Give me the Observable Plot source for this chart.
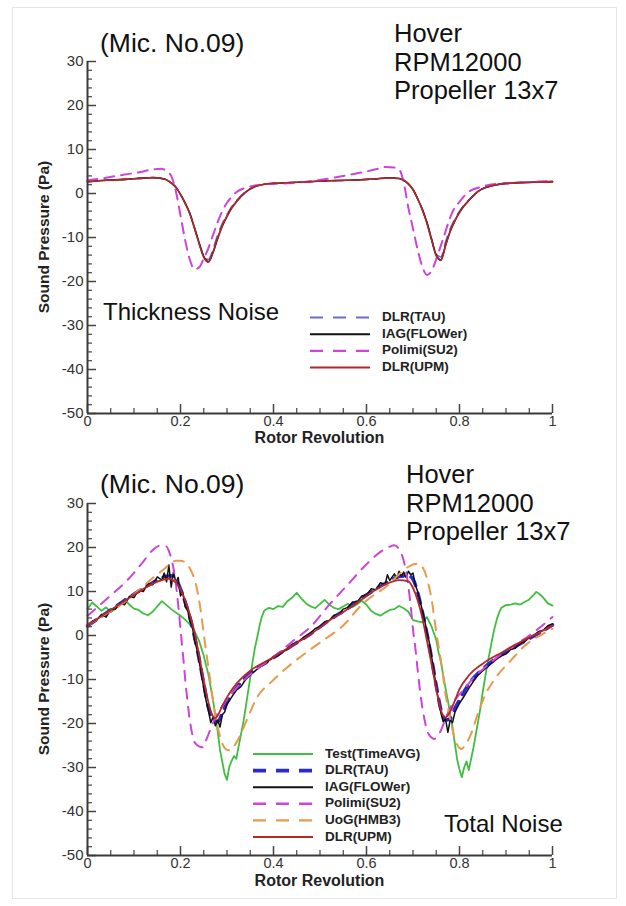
<!DOCTYPE html>
<html><head><meta charset="utf-8">
<script src="https://cdn.jsdelivr.net/npm/d3@7"></script>
<script src="https://cdn.jsdelivr.net/npm/@observablehq/plot@0.6"></script>
<style>
body{margin:0;background:#fff;}
#wrap{position:relative;width:626px;height:906px;overflow:hidden;}
#frame{position:absolute;left:12px;top:7px;width:603px;height:890px;border:1px solid #e6e6e6;}
#wrap svg{display:block;position:relative;}
</style>
</head><body><div id="wrap"><div id="frame"></div></div>
<script>
// ---------- tick values ----------
const xTicks = [0, 0.2, 0.4, 0.6, 0.8, 1];
const yTicks = [-50, -40, -30, -20, -10, 0, 10, 20, 30];
const xMinorTicks = [0.05, 0.1, 0.15, 0.25, 0.3, 0.35, 0.45, 0.5, 0.55, 0.65, 0.7, 0.75, 0.85, 0.9, 0.95];
const yMinorTicks = [-48,-46,-44,-42,-38,-36,-34,-32,-28,-26,-24,-22,-18,-16,-14,-12,-8,-6,-4,-2,2,4,6,8,12,14,16,18,22,24,26,28];

// ---------- top chart: Thickness Noise ----------
const thickX = [0, .04, .08, .12, .14, .16, .17, .18, .19, .20, .21, .22, .23, .24, .25, .26, .27, .28, .29, .30, .31, .32, .34, .36, .38, .40, .44, .48, .52, .56, .60, .62, .64, .66, .67, .68, .69, .70, .71, .72, .73, .74, .75, .76, .77, .78, .79, .80, .81, .82, .84, .86, .88, .90, .94, .97, 1.0];
const thickTAU = [2.7, 3.0, 3.2, 3.5, 3.6, 3.4, 3.1, 2.4, 1.4, -0.2, -2.2, -4.5, -7.8, -11.2, -14.2, -15.0, -12.6, -9.4, -6.8, -4.8, -3.0, -1.7, 0.4, 1.6, 2.1, 2.3, 2.5, 2.7, 2.9, 3.0, 3.2, 3.3, 3.5, 3.5, 3.4, 3.0, 2.2, 0.9, -1.2, -3.6, -6.6, -10.4, -13.8, -14.4, -11.0, -8.0, -5.8, -4.0, -2.6, -1.5, 0.5, 1.5, 2.0, 2.3, 2.5, 2.6, 2.7];
const thickIAG = [2.7, 3.0, 3.2, 3.5, 3.6, 3.4, 3.1, 2.4, 1.4, -0.2, -2.2, -4.5, -7.8, -11.2, -14.3, -15.5, -13.4, -10.2, -7.4, -5.2, -3.3, -1.9, 0.3, 1.6, 2.1, 2.3, 2.5, 2.7, 2.9, 3.0, 3.2, 3.3, 3.5, 3.5, 3.4, 3.0, 2.2, 0.9, -1.2, -3.6, -6.6, -10.4, -14.0, -15.1, -11.8, -8.6, -6.2, -4.3, -2.8, -1.6, 0.5, 1.5, 2.0, 2.3, 2.5, 2.6, 2.7];
const thickPolimi = [3.0, 3.6, 4.3, 5.0, 5.5, 5.6, 5.1, 4.0, 0.5, -5.0, -10.6, -15.0, -17.2, -16.8, -14.8, -12.4, -9.4, -6.5, -4.0, -2.1, -0.8, 0.3, 1.3, 1.8, 2.1, 2.2, 2.4, 2.8, 3.4, 4.2, 5.0, 5.5, 6.0, 5.9, 5.5, 2.5, -3.2, -8.0, -12.8, -16.6, -18.5, -17.6, -14.9, -11.8, -8.6, -5.4, -3.2, -1.9, -0.6, 0.4, 1.3, 1.9, 2.2, 2.3, 2.5, 2.7, 2.9];
const thickUPM = [2.7, 3.0, 3.2, 3.5, 3.6, 3.4, 3.1, 2.4, 1.4, -0.2, -2.2, -4.6, -7.9, -11.4, -14.5, -15.6, -13.3, -10.1, -7.3, -5.1, -3.3, -1.9, 0.3, 1.6, 2.1, 2.3, 2.5, 2.7, 2.9, 3.0, 3.2, 3.3, 3.5, 3.5, 3.4, 3.0, 2.2, 0.9, -1.2, -3.7, -6.8, -10.6, -14.2, -15.2, -11.8, -8.6, -6.2, -4.3, -2.8, -1.6, 0.5, 1.5, 2.0, 2.3, 2.5, 2.6, 2.7];

// ---------- bottom chart: Total Noise ([rotor revolution, Pa]) ----------
const totalTest = [[0,6.0],[.01,7.5],[.02,6.6],[.03,5.6],[.04,6.4],[.05,5.3],[.06,6.1],[.07,6.9],[.08,8.2],[.09,7.0],[.10,6.1],[.11,5.8],[.12,5.0],[.13,4.6],[.14,5.4],[.15,6.6],[.16,7.8],[.17,6.9],[.18,6.0],[.19,5.2],[.20,4.5],[.21,3.6],[.22,2.5],[.23,1.0],[.24,-1.2],[.25,-4.6],[.255,-6.8],[.26,-8.8],[.265,-11.8],[.27,-14.8],[.275,-18.3],[.28,-21.8],[.285,-26.0],[.29,-28.8],[.295,-31.5],[.30,-32.8],[.305,-29.8],[.31,-28.5],[.315,-27.4],[.32,-28.0],[.325,-25.2],[.33,-22.5],[.335,-19.8],[.34,-16.5],[.345,-13.0],[.35,-9.6],[.355,-6.0],[.36,-2.8],[.365,-0.4],[.37,2.2],[.375,4.3],[.38,5.6],[.39,6.3],[.40,6.0],[.41,6.7],[.42,6.5],[.43,7.8],[.44,8.6],[.45,9.7],[.46,8.4],[.47,7.3],[.48,6.6],[.49,6.2],[.50,7.2],[.51,8.1],[.52,7.0],[.53,6.3],[.54,6.0],[.55,6.6],[.56,7.2],[.57,6.5],[.58,7.1],[.59,7.9],[.60,7.0],[.61,5.6],[.62,4.9],[.63,4.5],[.64,5.2],[.65,5.8],[.66,6.0],[.67,6.7],[.68,6.2],[.69,5.4],[.70,3.5],[.71,3.2],[.72,3.0],[.73,4.2],[.74,2.0],[.745,0.5],[.75,-1.0],[.755,-3.8],[.76,-6.0],[.765,-9.0],[.77,-12.0],[.775,-14.8],[.78,-18.0],[.785,-20.8],[.79,-24.5],[.795,-28.2],[.80,-30.5],[.805,-32.2],[.81,-30.0],[.815,-28.6],[.82,-30.6],[.825,-28.0],[.83,-25.5],[.835,-22.5],[.84,-19.5],[.845,-16.5],[.85,-12.8],[.855,-9.6],[.86,-6.5],[.865,-3.8],[.87,-1.0],[.875,1.5],[.88,3.6],[.885,5.2],[.89,6.3],[.90,6.9],[.91,7.0],[.92,7.3],[.93,7.0],[.94,7.6],[.95,8.2],[.96,9.3],[.965,9.9],[.97,9.6],[.98,8.6],[.99,7.3],[1.0,6.8]];
const totalTAU = [[0,2.2],[.05,5.8],[.10,9.4],[.14,12.0],[.17,13.5],[.18,13.6],[.19,12.6],[.20,10.6],[.21,7.6],[.22,4.2],[.23,-0.2],[.24,-5.3],[.25,-11.0],[.26,-16.4],[.27,-19.0],[.28,-19.6],[.29,-17.6],[.30,-15.3],[.32,-12.0],[.35,-8.6],[.39,-5.7],[.44,-2.3],[.48,0.4],[.52,3.5],[.56,6.2],[.60,9.2],[.64,11.8],[.67,13.4],[.69,13.6],[.70,12.8],[.71,9.8],[.72,5.4],[.73,0.4],[.74,-5.2],[.75,-11.4],[.76,-16.8],[.77,-19.2],[.78,-18.9],[.79,-16.6],[.80,-14.6],[.82,-11.0],[.85,-7.6],[.89,-4.4],[.94,-1.3],[.97,0.5],[1.0,2.4]];
const totalIAG = [[0,2.0],[.01,3.2],[.02,3.6],[.03,4.8],[.04,4.2],[.05,5.9],[.06,6.0],[.07,7.4],[.08,7.0],[.09,8.9],[.10,8.6],[.11,10.4],[.12,10.0],[.13,11.8],[.14,11.5],[.15,13.3],[.16,12.6],[.165,14.2],[.17,12.2],[.175,16.0],[.18,11.0],[.185,14.5],[.19,12.0],[.195,13.2],[.20,9.0],[.205,9.8],[.21,6.5],[.215,6.0],[.22,3.2],[.225,2.4],[.23,-1.0],[.235,-3.0],[.24,-5.8],[.245,-8.8],[.25,-11.9],[.255,-14.8],[.26,-17.0],[.265,-19.8],[.27,-18.6],[.275,-20.5],[.28,-19.2],[.285,-20.8],[.29,-18.0],[.295,-17.4],[.30,-15.6],[.31,-14.0],[.32,-12.4],[.33,-11.6],[.34,-10.0],[.35,-9.0],[.36,-8.1],[.37,-7.2],[.38,-6.6],[.39,-5.7],[.40,-5.0],[.41,-4.6],[.42,-3.7],[.43,-3.2],[.44,-2.0],[.45,-1.7],[.46,-0.8],[.47,-0.1],[.48,0.6],[.49,1.6],[.50,2.0],[.51,3.1],[.52,3.4],[.53,4.6],[.54,4.8],[.55,6.0],[.56,6.4],[.57,7.6],[.58,7.6],[.59,9.0],[.60,9.2],[.61,10.6],[.62,10.4],[.63,12.0],[.64,11.6],[.645,13.8],[.65,12.5],[.66,14.0],[.665,13.0],[.67,14.6],[.675,13.5],[.68,14.4],[.685,13.2],[.69,14.6],[.695,13.8],[.70,14.2],[.705,11.5],[.71,10.0],[.715,7.8],[.72,5.8],[.725,3.5],[.73,0.8],[.735,-1.5],[.74,-4.8],[.745,-8.2],[.75,-11.6],[.755,-15.0],[.76,-17.6],[.765,-19.6],[.77,-19.0],[.775,-22.0],[.78,-19.2],[.785,-19.8],[.79,-17.5],[.80,-15.4],[.81,-13.8],[.82,-12.0],[.83,-10.4],[.84,-9.0],[.85,-8.0],[.86,-7.2],[.87,-6.2],[.88,-5.4],[.89,-4.6],[.90,-4.2],[.91,-3.2],[.92,-2.9],[.93,-1.8],[.94,-1.4],[.95,-0.5],[.96,0.0],[.97,0.9],[.98,1.2],[.99,2.2],[1.0,2.6]];
const totalPolimi = [[0,4.5],[.05,9.1],[.085,12.5],[.12,16.8],[.14,19.4],[.155,20.4],[.17,20.2],[.175,19.2],[.18,17.6],[.185,15.2],[.19,11.8],[.195,7.0],[.20,1.5],[.205,-4.0],[.21,-9.8],[.215,-15.0],[.22,-19.2],[.225,-22.3],[.23,-24.2],[.24,-25.2],[.247,-25.4],[.255,-23.8],[.26,-22.5],[.27,-19.8],[.28,-17.6],[.29,-16.0],[.30,-14.6],[.32,-12.0],[.34,-9.8],[.36,-8.0],[.40,-4.9],[.44,-1.4],[.48,2.0],[.52,7.0],[.56,11.6],[.60,16.2],[.63,19.0],[.65,20.2],[.66,20.5],[.67,19.6],[.68,17.0],[.685,14.6],[.69,11.2],[.695,6.8],[.70,1.4],[.705,-2.8],[.71,-7.8],[.715,-12.5],[.72,-16.3],[.725,-19.2],[.73,-21.5],[.74,-23.2],[.745,-23.5],[.75,-23.2],[.76,-21.6],[.77,-18.9],[.78,-16.4],[.795,-14.0],[.81,-12.2],[.825,-10.2],[.86,-6.8],[.90,-3.4],[.945,-0.4],[1.0,4.2]];
const totalUoG = [[0,2.3],[.05,5.6],[.085,8.0],[.12,11.2],[.143,13.3],[.165,15.1],[.18,16.5],[.19,17.0],[.20,17.0],[.21,16.6],[.22,15.3],[.23,12.8],[.235,10.8],[.24,8.0],[.245,4.5],[.25,0.4],[.255,-3.6],[.26,-7.2],[.265,-11.0],[.27,-14.8],[.275,-18.2],[.28,-20.8],[.29,-24.6],[.30,-26.0],[.305,-26.1],[.31,-25.8],[.32,-24.4],[.33,-22.3],[.345,-18.6],[.365,-14.0],[.395,-10.6],[.43,-7.2],[.47,-3.9],[.515,-0.5],[.545,1.8],[.594,7.4],[.65,11.8],[.673,14.2],[.695,15.9],[.71,16.3],[.72,15.6],[.73,13.0],[.74,8.2],[.75,0.8],[.76,-5.7],[.77,-13.3],[.78,-19.0],[.79,-23.4],[.80,-25.6],[.805,-25.8],[.81,-25.2],[.825,-22.3],[.84,-17.6],[.855,-13.6],[.88,-9.3],[.91,-5.7],[.945,-1.9],[.98,0.4],[1.0,1.5]];
const totalUPM = [[0,2.3],[.05,5.8],[.10,9.2],[.14,11.8],[.16,12.6],[.175,12.9],[.19,12.0],[.20,10.5],[.21,8.0],[.22,4.9],[.23,0.8],[.24,-4.4],[.25,-10.2],[.26,-15.2],[.27,-18.4],[.275,-18.8],[.28,-18.2],[.29,-16.0],[.30,-14.0],[.32,-11.0],[.35,-8.0],[.39,-5.5],[.44,-2.3],[.48,0.3],[.52,3.4],[.56,6.0],[.60,9.0],[.64,11.6],[.67,12.6],[.69,12.3],[.70,10.8],[.71,8.0],[.72,4.0],[.73,-1.2],[.74,-6.5],[.75,-12.2],[.76,-17.0],[.77,-18.6],[.78,-17.3],[.79,-14.8],[.80,-12.2],[.82,-9.1],[.85,-6.4],[.89,-3.9],[.94,-1.0],[.97,0.6],[1.0,2.3]];

// ---------- labels ----------
const topLabels = ["DLR(TAU)", "IAG(FLOWer)", "Polimi(SU2)", "DLR(UPM)"];
const bottomLabels = ["Test(TimeAVG)", "DLR(TAU)", "IAG(FLOWer)", "Polimi(SU2)", "UoG(HMB3)", "DLR(UPM)"];
const micLabel = "(Mic. No.09)";
const conditionLines = ["Hover", "RPM12000", "Propeller 13x7"];
const xTitle = "Rotor Revolution";
const yTitle = "Sound Pressure (Pa)";

const FONT = "'Liberation Sans', Arial, Helvetica, sans-serif";
const W = 626, H = 453;

function zipXY(xs, ys) { return xs.map((x, i) => [x, ys[i]]); }

const topSeries = [
  {label: topLabels[0], data: zipXY(thickX, thickTAU), color: "#6b6bd0", width: 1.6, dash: "10,7", curve: "monotone-x"},
  {label: topLabels[1], data: zipXY(thickX, thickIAG), color: "#111111", width: 1.6, dash: null, curve: "monotone-x"},
  {label: topLabels[2], data: zipXY(thickX, thickPolimi), color: "#cc44d8", width: 2, dash: "10,7", curve: "monotone-x"},
  {label: topLabels[3], data: zipXY(thickX, thickUPM), color: "#b02828", width: 1.6, dash: null, curve: "monotone-x"}
];
const bottomSeries = [
  {label: bottomLabels[0], data: totalTest, color: "#3fbf3f", width: 1.8, dash: null, curve: "linear"},
  {label: bottomLabels[1], data: totalTAU, color: "#2a2ad0", width: 3.5, dash: "10,8", curve: "monotone-x"},
  {label: bottomLabels[2], data: totalIAG, color: "#111111", width: 1.5, dash: null, curve: "linear"},
  {label: bottomLabels[3], data: totalPolimi, color: "#cc44d8", width: 2, dash: "10,8", curve: "monotone-x"},
  {label: bottomLabels[4], data: totalUoG, color: "#e89a4c", width: 2, dash: "10,8", curve: "monotone-x"},
  {label: bottomLabels[5], data: totalUPM, color: "#b82626", width: 1.8, dash: null, curve: "monotone-x"}
];

function build(cfg) {
  const marks = cfg.series.map(s => Plot.line(s.data, {
    x: d => d[0], y: d => d[1], stroke: s.color, strokeWidth: s.width,
    strokeDasharray: s.dash || undefined, curve: s.curve
  }));
  marks.push(
    Plot.axisY({ticks: yMinorTicks, tickSize: -5, tickFormat: () => "", label: null, stroke: "#444", strokeWidth: 1.2}),
    Plot.axisY({ticks: yTicks, tickSize: -9, tickPadding: 13, tickFormat: d => String(d), label: null, fontSize: 15, stroke: "#444", strokeWidth: 1.5}),
    Plot.axisX({ticks: xMinorTicks, tickSize: -5, tickFormat: () => "", label: null, stroke: "#444", strokeWidth: 1.2}),
    Plot.axisX({ticks: xTicks, tickSize: -9, tickPadding: 11, tickFormat: d => String(d), label: null, fontSize: 14.5, stroke: "#444", strokeWidth: 1.5}),
    Plot.ruleX([0], {stroke: "#3a3a3a", strokeWidth: 2}),
    Plot.ruleY([-50], {stroke: "#3a3a3a", strokeWidth: 2})
  );
  const svg = Plot.plot({
    width: W, height: H,
    marginLeft: 87, marginRight: 74, marginTop: cfg.marginTop, marginBottom: cfg.marginBottom,
    x: {domain: [0, 1], axis: null},
    y: {domain: [-50, 30], axis: null},
    style: {fontFamily: FONT, color: "#333", background: "transparent", overflow: "visible"},
    marks
  });
  const g = d3.select(svg).append("g").attr("text-anchor", "start");
  const top = cfg.marginTop, bottom = H - cfg.marginBottom;
  // axis titles
  g.append("text").attr("x", 319.5).attr("y", bottom + cfg.xTitleDy)
    .attr("text-anchor", "middle").attr("dominant-baseline", "middle")
    .style("font", `bold 16px ${FONT}`).attr("fill", "#222").text(xTitle);
  g.append("text").attr("transform", `translate(45,${(top + bottom) / 2}) rotate(-90)`)
    .attr("text-anchor", "middle").attr("dominant-baseline", "middle")
    .style("font", `bold 15.5px ${FONT}`).attr("fill", "#222").text(yTitle);
  // annotations
  g.append("text").attr("x", 100).attr("y", cfg.micY).attr("text-anchor", "start")
    .style("font", `26.5px ${FONT}`).attr("fill", "#111").text(micLabel);
  conditionLines.forEach((t, i) => {
    g.append("text").attr("x", cfg.condX).attr("y", cfg.condY + i * 28.5).attr("text-anchor", "start")
      .style("font", `25.5px ${FONT}`).attr("fill", "#111").text(t);
  });
  g.append("text").attr("x", cfg.noteX).attr("y", cfg.noteY).attr("text-anchor", "start")
    .style("font", `24px ${FONT}`).attr("fill", "#111").text(cfg.note);
  // legend
  cfg.series.forEach((s, i) => {
    const y = cfg.legY + i * cfg.legStep;
    g.append("line").attr("x1", cfg.legX).attr("x2", cfg.legX + 60).attr("y1", y).attr("y2", y)
      .attr("stroke", s.color).attr("stroke-width", s.width + 0.4)
      .attr("stroke-dasharray", s.dash ? "13,10" : null);
    g.append("text").attr("x", cfg.legX + 72).attr("y", y).attr("dominant-baseline", "middle")
      .attr("text-anchor", "start")
      .style("font", `bold 13.5px ${FONT}`).attr("fill", "#222").text(s.label);
  });
  return svg;
}

const wrap = document.getElementById("wrap");
wrap.appendChild(build({
  series: topSeries, marginTop: 61, marginBottom: 40, xTitleDy: 26,
  micY: 52, condX: 394, condY: 42, note: "Thickness Noise", noteX: 103, noteY: 320,
  legX: 310, legY: 317.5, legStep: 16.7
}));
wrap.appendChild(build({
  series: bottomSeries, marginTop: 50, marginBottom: 51, xTitleDy: 27,
  micY: 40, condX: 406, condY: 30, note: "Total Noise", noteX: 444, noteY: 379,
  legX: 253, legY: 301, legStep: 16.6
}));
</script></body></html>
